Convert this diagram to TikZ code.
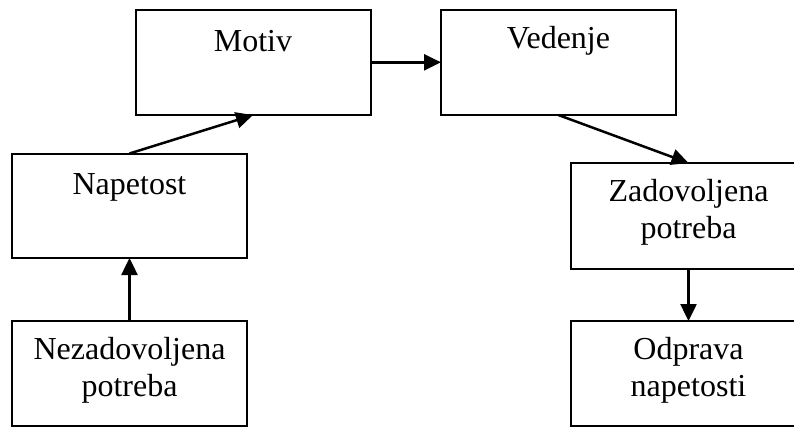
\documentclass[tikz,border=0pt]{standalone}
\usepackage{fontspec}
\setmainfont{Liberation Serif}
\usetikzlibrary{arrows.meta}
\tikzset{
  box/.style={draw=black, line width=2pt, rectangle, minimum width=235pt, inner sep=0pt, outer sep=0pt},
  lbl/.style={anchor=base, inner sep=0pt, font=\fontsize{32}{37}\selectfont},
  arr/.style={line width=2.5pt, -{Triangle[length=17pt, width=16pt]}}
}
\begin{document}
\begin{tikzpicture}[x=1pt, y=-1pt]
\useasboundingbox (0,0) rectangle (794,426);
\clip (0,0) rectangle (794,426);
% boxes
\node[box, minimum height=105.5pt] (motiv) at (253,62.3) {};
\node[box, minimum height=105.5pt] (vedenje) at (558.5,62.3) {};
\node[box, minimum height=104.5pt] (napetost) at (129.5,205.75) {};
\node[box, minimum height=106pt] (zadov) at (688.5,216) {};
\node[box, minimum height=105pt] (nezadov) at (129.5,373.5) {};
\node[box, minimum height=105pt] (odprava) at (688.5,373.5) {};
% labels
\node[lbl] (tmotiv) at (253,51.7) {Motiv};
\node[lbl] (tvedenje) at (558.5,48.5) {Vedenje};
\node[lbl] (tnapetost) at (129.5,194) {Napetost};
\node[lbl] (tzadov1) at (688.5,201.7) {Zadovoljena};
\node[lbl] (tzadov2) at (688.5,238.5) {potreba};
\node[lbl] (tnezadov1) at (129.5,359.3) {Nezadovoljena};
\node[lbl] (tnezadov2) at (129.5,396.3) {potreba};
\node[lbl] (todprava1) at (688.5,359.3) {Odprava};
\node[lbl] (todprava2) at (688.5,396.5) {napetosti};
% connectors
\draw[arr] (napetost.north) -- (motiv.south);
\draw[arr] (motiv.east) -- (vedenje.west);
\draw[arr] (vedenje.south) -- (zadov.north);
\draw[arr] (nezadov.north) -- (napetost.south);
\draw[arr] (zadov.south) -- (odprava.north);
\end{tikzpicture}
\end{document}
